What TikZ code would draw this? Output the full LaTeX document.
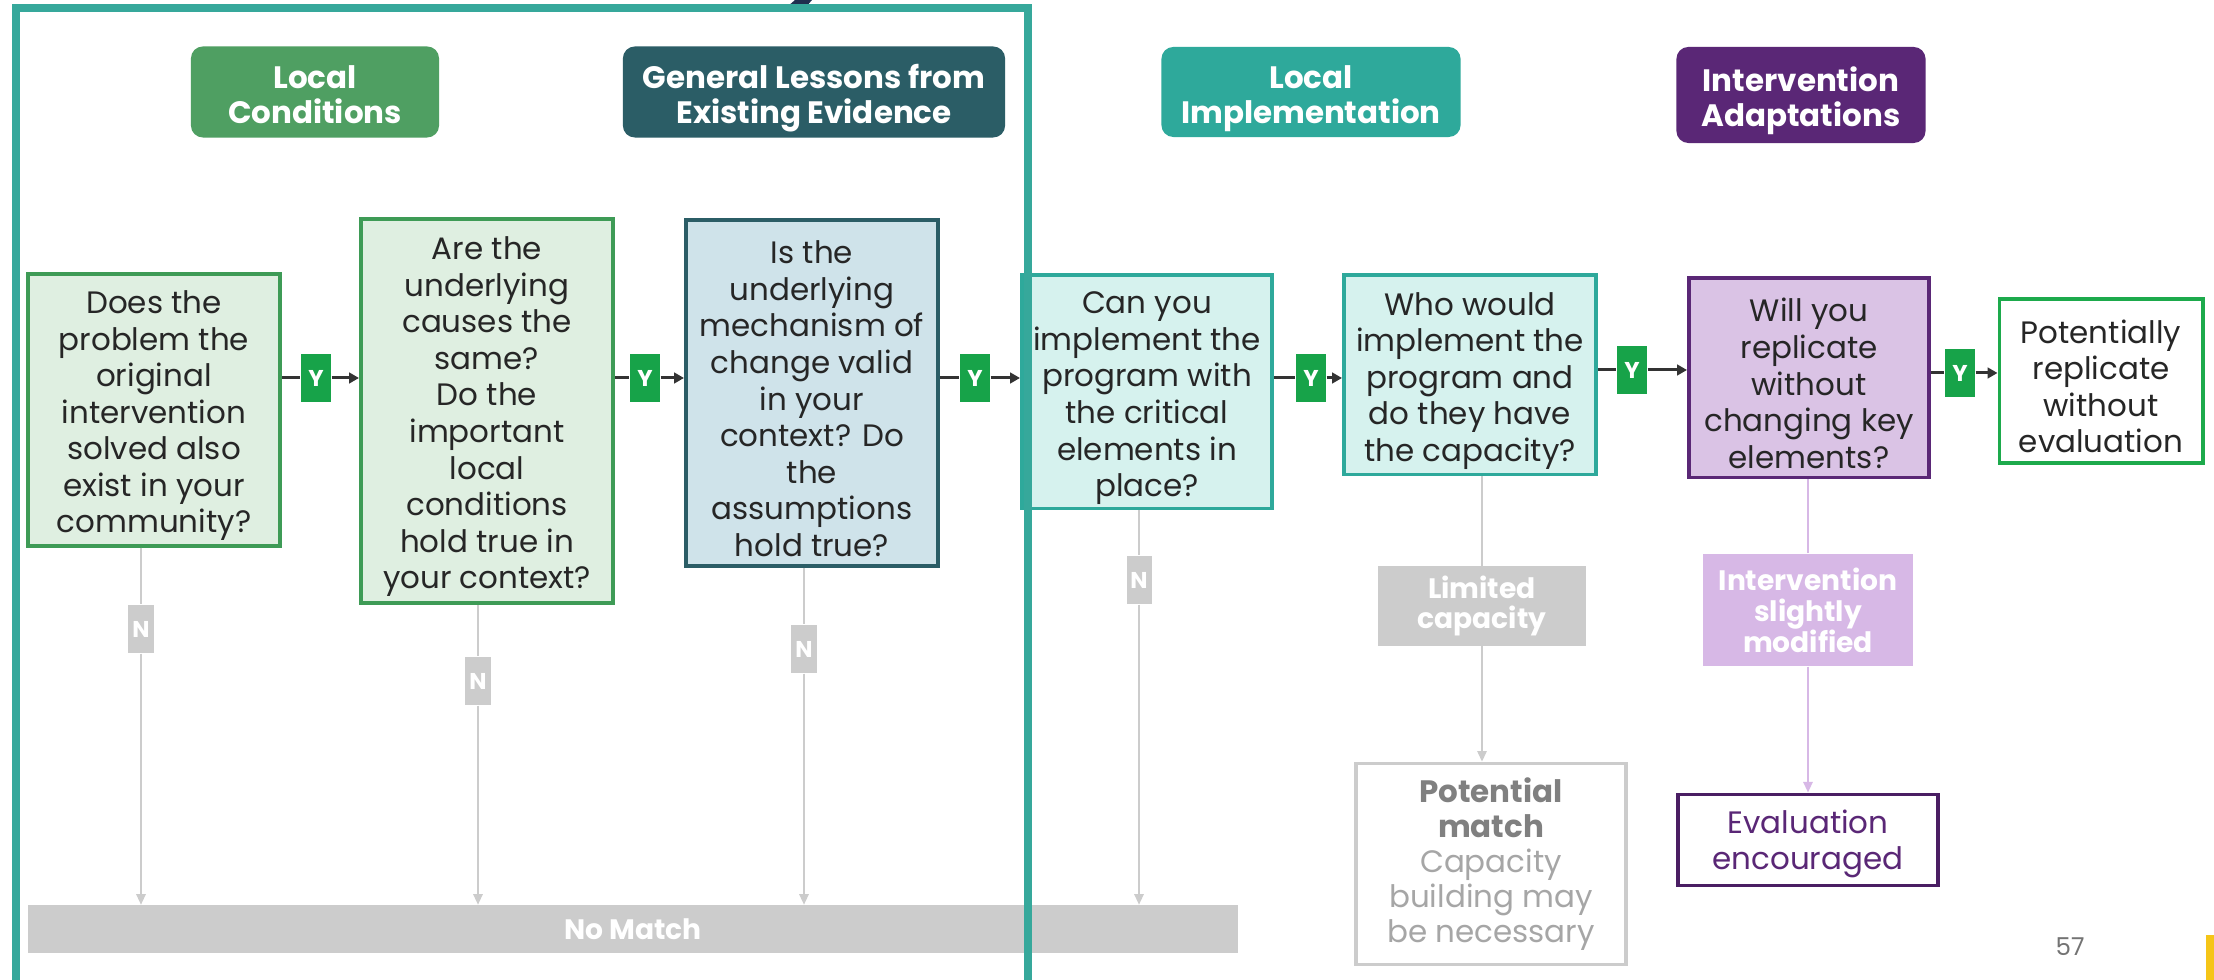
\documentclass[tikz,border=0pt]{standalone}
\usepackage{fontspec}
\setmainfont{Poppins}
\usepackage{tikz}
\usetikzlibrary{arrows.meta}

\definecolor{frameteal}{HTML}{36A89B}
\definecolor{hdgreen}{HTML}{4F9F62}
\definecolor{hddark}{HTML}{2B5D66}
\definecolor{hdteal}{HTML}{2EA99B}
\definecolor{hdpurple}{HTML}{5A2776}
\definecolor{qgreenfill}{HTML}{DFEFE1}
\definecolor{qgreendraw}{HTML}{3E9B56}
\definecolor{qbluefill}{HTML}{CFE3EA}
\definecolor{qtealfill}{HTML}{D6F2EE}
\definecolor{qpurpfill}{HTML}{DAC3E5}
\definecolor{outgreen}{HTML}{1DAA4C}
\definecolor{ygreen}{HTML}{17A349}
\definecolor{ngray}{HTML}{CCCCCC}
\definecolor{lpurple}{HTML}{D7B8E6}
\definecolor{evalpurple}{HTML}{4A1E63}
\definecolor{titlenavy}{HTML}{1F2F4F}
\definecolor{pageyellow}{HTML}{F5C518}
\newcommand{\qpad}{\rule{0pt}{9.8pt}}
\newcommand{\hpad}{\rule{0pt}{10.2pt}}

\begin{document}
\begin{tikzpicture}[x=0.01cm,y=-0.01cm,
  every node/.style={align=center, inner sep=0pt},
  head/.style={rounded corners=3.4pt, fill=#1, text=white, font=\bfseries\fontsize{8.8}{10}\selectfont},
  ques/.style 2 args={draw=#1, fill=#2, line width=1.1pt, text=black!85, font=\fontsize{8.8}{10.4}\selectfont},
  yesbox/.style={fill=ygreen, text=white, font=\bfseries\fontsize{6.5}{6.5}\selectfont, minimum width=0.3cm, minimum height=0.48cm},
  nobox/.style={fill=ngray, text=white, font=\bfseries\fontsize{6.5}{6.5}\selectfont, minimum width=0.25cm, minimum height=0.48cm},
  yline/.style={draw=black!80, line width=0.85pt},
  nline/.style={draw=ngray, line width=0.6pt},
  pline/.style={draw=lpurple, line width=0.6pt}]
  \fill[white] (0,0) rectangle (2214,980);
  \useasboundingbox (0,0) rectangle (2214,980);
  \fill[titlenavy] (795,0) -- (812,0) -- (806,7) -- (787,7) -- cycle;

  \node[head=hdgreen, minimum width=2.48cm, minimum height=0.91cm] (lochead) at (315,92) {\hpad Local\\Conditions\vphantom{gp}};
  \node[head=hddark, minimum width=3.82cm, minimum height=0.91cm] (evhead) at (814,92) {\hpad General Lessons from\\Existing Evidence\vphantom{gp}};
  \node[head=hdteal, minimum width=2.99cm, minimum height=0.90cm] (imphead) at (1311,92) {\hpad Local\\Implementation\vphantom{gp}};
  \node[head=hdpurple, minimum width=2.49cm, minimum height=0.96cm] (adhead) at (1801,95) {\hpad Intervention\\Adaptations\vphantom{gp}};

  \node[ques={qgreendraw}{qgreenfill}, minimum width=2.52cm, minimum height=2.71cm] (problem) at (154,410)
    {\qpad Does the\\problem the\\original\\intervention\\solved also\\exist in your\\community?};
  \node[ques={qgreendraw}{qgreenfill}, minimum width=2.52cm, minimum height=3.84cm] (causes) at (487,411)
    {\qpad Are the\\underlying\\causes the\\same?\\Do the\\important\\local\\conditions\\hold true in\\your context?};
  \node[ques={hddark}{qbluefill}, minimum width=2.52cm, minimum height=3.46cm] (mechanism) at (812,393)
    {\qpad Is the\\underlying\\mechanism of\\change valid\\in your\\context? Do\\the\\assumptions\\hold true?};
  \node[ques={hdteal}{qtealfill}, minimum width=2.50cm, minimum height=2.33cm] (feasible) at (1147,392)
    {\qpad Can you\\implement the\\program with\\the critical\\elements in\\place?};
  \node[ques={hdteal}{qtealfill}, minimum width=2.52cm, minimum height=1.99cm] (capacity) at (1470,375)
    {\qpad Who would\\implement the\\program and\\do they have\\the capacity?};
  \node[ques={hdpurple}{qpurpfill}, minimum width=2.40cm, minimum height=1.99cm] (replicate) at (1809,378)
    {\qpad Will you\\replicate\\without\\changing key\\elements?};
  \node[ques={outgreen}{white}, minimum width=2.03cm, minimum height=1.64cm] (noeval) at (2101,381)
    {\qpad Potentially\\replicate\\without\\evaluation};

  \node[yesbox] (y1) at (316,378) {Y};
  \node[yesbox] (y2) at (645,378) {Y};
  \node[yesbox] (y3) at (975,378) {Y};
  \node[yesbox] (y4) at (1311,378) {Y};
  \node[yesbox] (y5) at (1632,370) {Y};
  \node[yesbox] (y6) at (1960,373) {Y};
  \draw[yline] (problem.east |- y1) -- (y1);
  \draw[yline,-{Triangle[length=2.8pt,width=3pt]}] (y1) -- (causes.west |- y1);
  \draw[yline] (causes.east |- y2) -- (y2);
  \draw[yline,-{Triangle[length=2.8pt,width=3pt]}] (y2) -- (mechanism.west |- y2);
  \draw[yline] (mechanism.east |- y3) -- (y3);
  \draw[yline,-{Triangle[length=2.8pt,width=3pt]}] (y3) -- (feasible.west |- y3);
  \draw[yline] (feasible.east |- y4) -- (y4);
  \draw[yline,-{Triangle[length=2.8pt,width=3pt]}] (y4) -- (capacity.west |- y4);
  \draw[yline] (capacity.east |- y5) -- (y5);
  \draw[yline,-{Triangle[length=2.8pt,width=3pt]}] (y5) -- (replicate.west |- y5);
  \draw[yline] (replicate.east |- y6) -- (y6);
  \draw[yline,-{Triangle[length=2.8pt,width=3pt]}] (y6) -- (noeval.west |- y6);

  \node[fill=ngray, text=white, font=\bfseries\fontsize{8}{8}\selectfont, minimum width=12.10cm, minimum height=0.47cm] (nomatch) at (633,929) {No Match};
  \node[nobox] (n1) at (141,629) {N};
  \node[nobox] (n2) at (478,681) {N};
  \node[nobox] (n3) at (804,649) {N};
  \node[nobox] (n4) at (1139,580) {N};
  \foreach \q/\n in {problem/n1, causes/n2, mechanism/n3, feasible/n4} {
    \draw[nline] (\q.south -| \n) -- (\n);
    \draw[nline,-{Triangle[length=3pt,width=2.6pt]}] (\n) -- (\n |- nomatch.north);
  }

  \node[fill=ngray, text=white, font=\bfseries\fontsize{8}{8.6}\selectfont, minimum width=2.08cm, minimum height=0.79cm] (limited) at (1482,606) {Limited\\capacity};
  \node[draw=ngray, line width=1pt, fill=white, text=black!35, font=\fontsize{8.8}{9.9}\selectfont, minimum width=2.70cm, minimum height=2.01cm] (potmatch) at (1491,864)
    {\textbf{\color{black!50}Potential}\\\textbf{\color{black!50}match}\\Capacity\\building may\\be necessary};
  \draw[nline] (capacity.south -| limited) -- (limited);
  \draw[nline,-{Triangle[length=3pt,width=2.6pt]}] (limited) -- (limited |- potmatch.north);

  \node[fill=lpurple, text=white, font=\bfseries\fontsize{8}{8.8}\selectfont, minimum width=2.10cm, minimum height=1.12cm] (modified) at (1808,610) {Intervention\\slightly\\modified};
  \node[draw=evalpurple, line width=1.1pt, fill=white, text=hdpurple, font=\fontsize{8.8}{10.2}\selectfont, minimum width=2.60cm, minimum height=0.91cm] (evalenc) at (1808,840) {\rule{0pt}{9pt}Evaluation\\encouraged};
  \draw[pline] (replicate.south -| modified) -- (modified);
  \draw[pline,-{Triangle[length=3pt,width=2.6pt]}] (modified) -- (modified |- evalenc.north);

  \node[text=black!55, font=\fontsize{7}{7}\selectfont] (pagenum) at (2070,947) {57};
  \fill[pageyellow] (2206,935) rectangle (2214,980);

  \draw[frameteal, line width=2.2pt] (16,985) -- (16,8) -- (1028,8) -- (1028,985);
\end{tikzpicture}
\end{document}
